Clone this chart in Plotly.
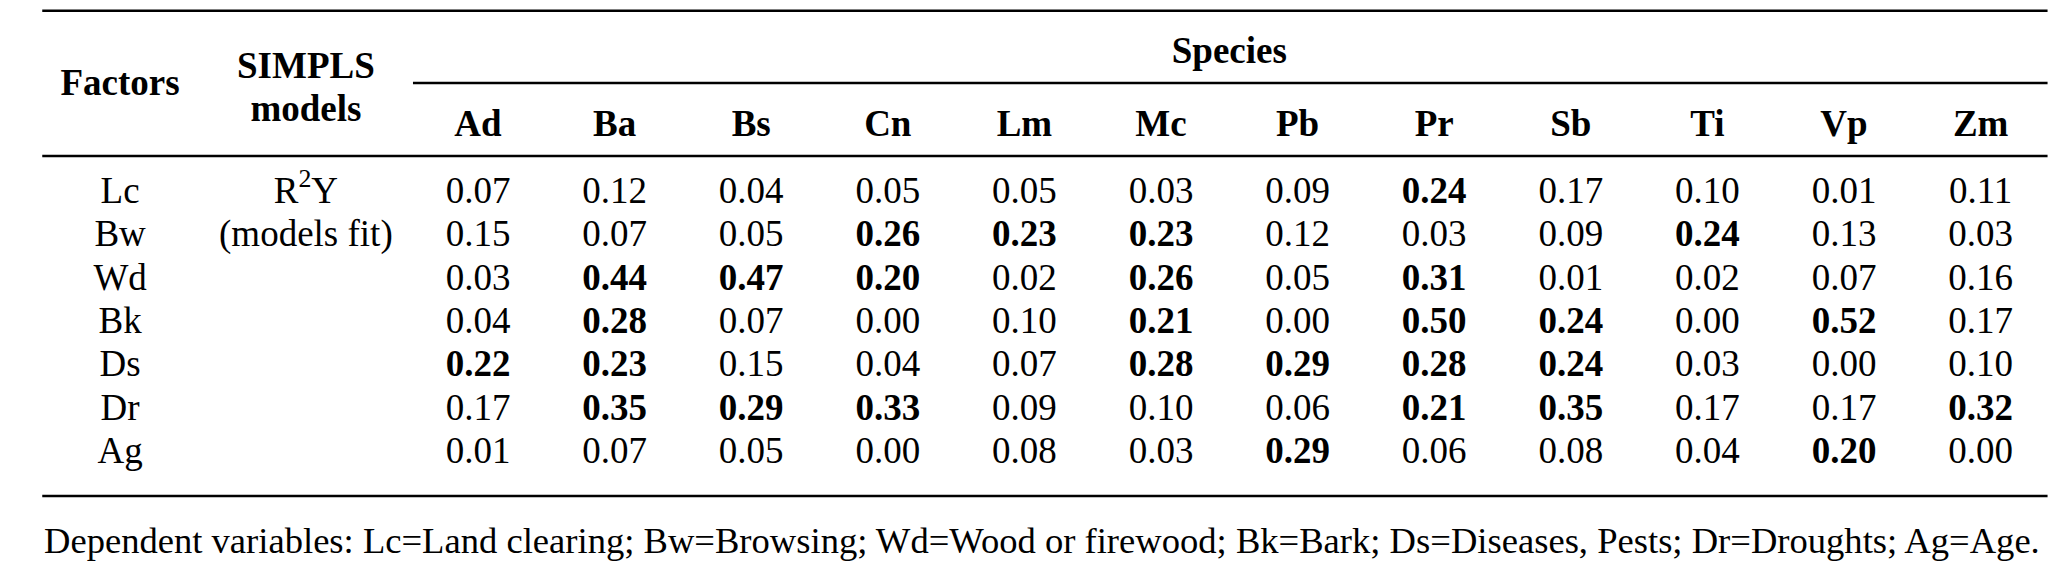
import plotly.graph_objects as go

# ---------------- data ----------------
species = ["Ad", "Ba", "Bs", "Cn", "Lm", "Mc", "Pb", "Pr", "Sb", "Ti", "Vp", "Zm"]
factors = ["Lc", "Bw", "Wd", "Bk", "Ds", "Dr", "Ag"]
model_labels = ["R<sup>2</sup>Y", "(models fit)"]

lc = [0.07, 0.12, 0.04, 0.05, 0.05, 0.03, 0.09, 0.24, 0.17, 0.10, 0.01, 0.11]
bw = [0.15, 0.07, 0.05, 0.26, 0.23, 0.23, 0.12, 0.03, 0.09, 0.24, 0.13, 0.03]
wd = [0.03, 0.44, 0.47, 0.20, 0.02, 0.26, 0.05, 0.31, 0.01, 0.02, 0.07, 0.16]
bk = [0.04, 0.28, 0.07, 0.00, 0.10, 0.21, 0.00, 0.50, 0.24, 0.00, 0.52, 0.17]
ds = [0.22, 0.23, 0.15, 0.04, 0.07, 0.28, 0.29, 0.28, 0.24, 0.03, 0.00, 0.10]
dr = [0.17, 0.35, 0.29, 0.33, 0.09, 0.10, 0.06, 0.21, 0.35, 0.17, 0.17, 0.32]
ag = [0.01, 0.07, 0.05, 0.00, 0.08, 0.03, 0.29, 0.06, 0.08, 0.04, 0.20, 0.00]
rows = [lc, bw, wd, bk, ds, dr, ag]
BOLD_MIN = 0.20  # values >= this are printed bold

footnote = ("Dependent variables: Lc=Land clearing; Bw=Browsing; Wd=Wood or firewood; "
            "Bk=Bark; Ds=Diseases, Pests; Dr=Droughts; Ag=Age.")

# ---------------- layout (axis units: species column = 1, data row = 1) ----------------
PAGE_MARGIN = 8               # default body margin of the html page
W, H = 2063 - PAGE_MARGIN, 573 - PAGE_MARGIN
FONT = "Liberation Serif"
FS = 37
FS_NOTE = 36.6
TEXT_DY = 0.082
X_FACTOR, X_MODEL = -2.62, -1.26
Y_HEAD, Y_SPECIES, Y_FACTORS = -1.544, -3.226, -2.488
Y_SIMPLS, Y_MODELS = -2.880, -1.889
LINE_X0, LINE_X1, SPEC_X0 = -3.19, 11.49, -0.476
Y_TOP, Y_SPEC_LINE, Y_HEAD_LINE, Y_BOTTOM = -4.131, -2.465, -0.783, 7.051
Y_NOTE = 8.065
X_RANGE = [-3.4407, 11.603]
Y_RANGE = [8.825, -4.194]

fig = go.Figure()


def text_trace(x, y, text):
    fig.add_trace(go.Scatter(x=x, y=[v + TEXT_DY for v in y], text=text, mode="text",
                             textposition="middle center",
                             textfont=dict(family=FONT, size=FS, color="black"),
                             hoverinfo="skip", showlegend=False))


# data cells
xs, ys, txt = [], [], []
for r, vals in enumerate(rows):
    for c, v in enumerate(vals):
        s = f"{v:.2f}"
        xs.append(c)
        ys.append(r)
        txt.append(f"<b>{s}</b>" if v >= BOLD_MIN else s)
text_trace(xs, ys, txt)

# row labels
text_trace([X_FACTOR] * len(factors), list(range(len(factors))), factors)
text_trace([X_MODEL] * len(model_labels), list(range(len(model_labels))), model_labels)

# headers
text_trace(list(range(len(species))), [Y_HEAD] * len(species), [f"<b>{s}</b>" for s in species])
text_trace([(len(species) - 1) / 2, X_FACTOR, X_MODEL, X_MODEL],
           [Y_SPECIES, Y_FACTORS, Y_SIMPLS, Y_MODELS],
           ["<b>Species</b>", "<b>Factors</b>", "<b>SIMPLS</b>", "<b>models</b>"])

# rules
for x0, y0 in [(LINE_X0, Y_TOP), (SPEC_X0, Y_SPEC_LINE), (LINE_X0, Y_HEAD_LINE), (LINE_X0, Y_BOTTOM)]:
    fig.add_shape(type="line", xref="x", yref="y", x0=x0, x1=LINE_X1, y0=y0, y1=y0,
                  line=dict(color="black", width=2.5))

fig.add_annotation(x=LINE_X0, y=Y_NOTE, xref="x", yref="y", text=footnote,
                   showarrow=False, xanchor="left", yanchor="middle",
                   font=dict(family=FONT, size=FS_NOTE, color="black"))

fig.update_layout(width=W, height=H, margin=dict(l=0, r=0, t=0, b=0),
                  paper_bgcolor="white", plot_bgcolor="white")
fig.update_xaxes(visible=False, range=X_RANGE, fixedrange=True)
fig.update_yaxes(visible=False, range=Y_RANGE, fixedrange=True)

fig.write_html("out.html")
